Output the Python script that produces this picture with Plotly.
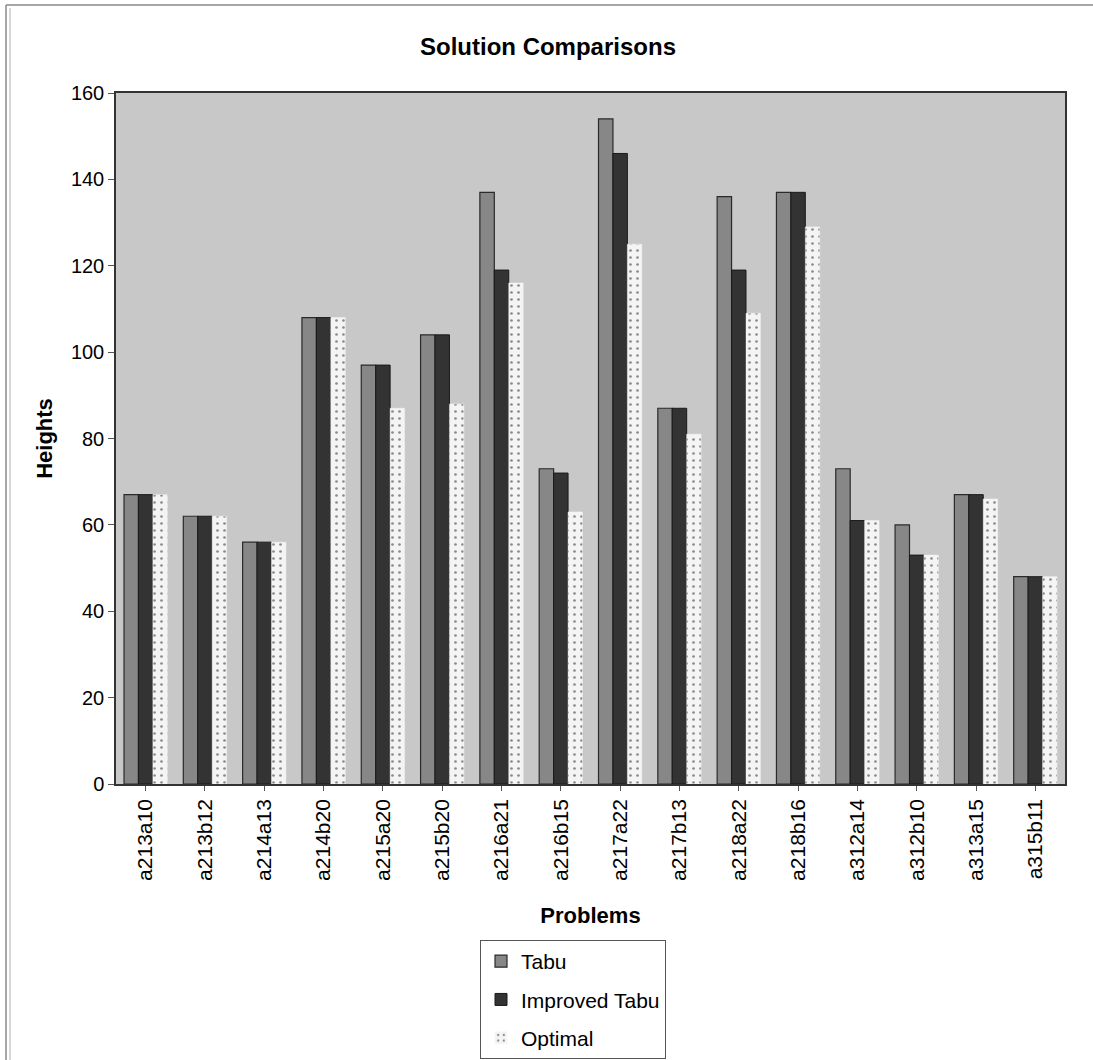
import plotly.graph_objects as go

problems = ["a213a10", "a213b12", "a214a13", "a214b20", "a215a20", "a215b20",
            "a216a21", "a216b15", "a217a22", "a217b13", "a218a22", "a218b16",
            "a312a14", "a312b10", "a313a15", "a315b11"]
tabu = [67, 62, 56, 108, 97, 104, 137, 73, 154, 87, 136, 137, 73, 60, 67, 48]
improved_tabu = [67, 62, 56, 108, 97, 104, 119, 72, 146, 87, 119, 137, 61, 53, 67, 48]
optimal = [67, 62, 56, 108, 87, 88, 116, 63, 125, 81, 109, 129, 61, 53, 66, 48]
y_ticks = [0, 20, 40, 60, 80, 100, 120, 140, 160]

FONT = "Liberation Sans, Arial, sans-serif"

fig = go.Figure()
fig.add_trace(go.Bar(
    name="Tabu", x=problems, y=tabu, legendgroup="t",
    marker=dict(color="#878787", line=dict(color="#2a2a2a", width=1.2)),
))
fig.add_trace(go.Bar(
    name="Improved Tabu", x=problems, y=improved_tabu, legendgroup="i",
    marker=dict(color="#333333", line=dict(color="#1a1a1a", width=1)),
))
fig.add_trace(go.Bar(
    name="Optimal", x=problems, y=optimal, legendgroup="o",
    marker=dict(
        color="#f4f4f4",
        line=dict(color="#f4f4f4", width=0.5),
        pattern=dict(shape=".", fgcolor="#1e1e1e", bgcolor="#f4f4f4",
                     size=7, solidity=0.12),
    ),
))

# plot area: x 116..1065 px, y 93..784 px
L, R, T, B = 116, 28, 93, 276
W, H = 1093 - L - R, 1060 - T - B


def px_x(x):
    return (x - L) / W


def px_y(y):
    return (1060 - B - y) / H


frame = dict(color="#8a8a8a", width=1.5)

fig.update_layout(
    width=1093, height=1060,
    margin=dict(l=L, r=R, t=T, b=B, autoexpand=False),
    paper_bgcolor="white",
    plot_bgcolor="#c8c8c8",
    barmode="group",
    bargap=0.27,
    bargroupgap=0,
    font=dict(family=FONT, size=20, color="black"),
    title=dict(text="<b>Solution Comparisons</b>", xref="container", x=548 / 1093,
               xanchor="center", y=1 - 47 / 1060, yanchor="middle",
               font=dict(family=FONT, size=24, color="black")),
    showlegend=True,
    legend=dict(
        orientation="v",
        x=px_x(480), xanchor="left",
        y=px_y(940), yanchor="top",
        bordercolor="#555555", borderwidth=1,
        bgcolor="white",
        font=dict(family=FONT, size=21, color="black"),
        traceorder="grouped",
        itemwidth=30,
        tracegroupgap=8,
    ),
    xaxis=dict(
        title=dict(text="<b>Problems</b>", standoff=28,
                   font=dict(family=FONT, size=22, color="black")),
        tickangle=-90,
        tickfont=dict(family=FONT, size=21, color="black"),
        showline=True, linecolor="#333333", linewidth=1.5,
        mirror=True,
        ticks="outside", ticklen=5, tickcolor="#555555",
        showgrid=False,
    ),
    yaxis=dict(
        title=dict(text="<b>Heights</b>", standoff=12,
                   font=dict(family=FONT, size=22, color="black")),
        range=[0, 160],
        tickvals=y_ticks,
        tickfont=dict(family=FONT, size=20, color="black"),
        showline=True, linecolor="#333333", linewidth=1.5,
        mirror=True,
        ticks="outside", ticklen=6, tickcolor="#555555",
        showgrid=False, zeroline=False,
    ),
    shapes=[
        # chart-area frame (top edge and double left edge)
        dict(type="line", xref="paper", yref="paper",
             x0=px_x(6), x1=px_x(1093), y0=px_y(5), y1=px_y(5), line=frame),
        dict(type="line", xref="paper", yref="paper",
             x0=px_x(6), x1=px_x(6), y0=px_y(1060), y1=px_y(5), line=frame),
        dict(type="line", xref="paper", yref="paper",
             x0=px_x(10), x1=px_x(10), y0=px_y(1060), y1=px_y(8),
             line=dict(color="#b0b0b0", width=1)),
    ],
)

fig.write_html("out.html")
